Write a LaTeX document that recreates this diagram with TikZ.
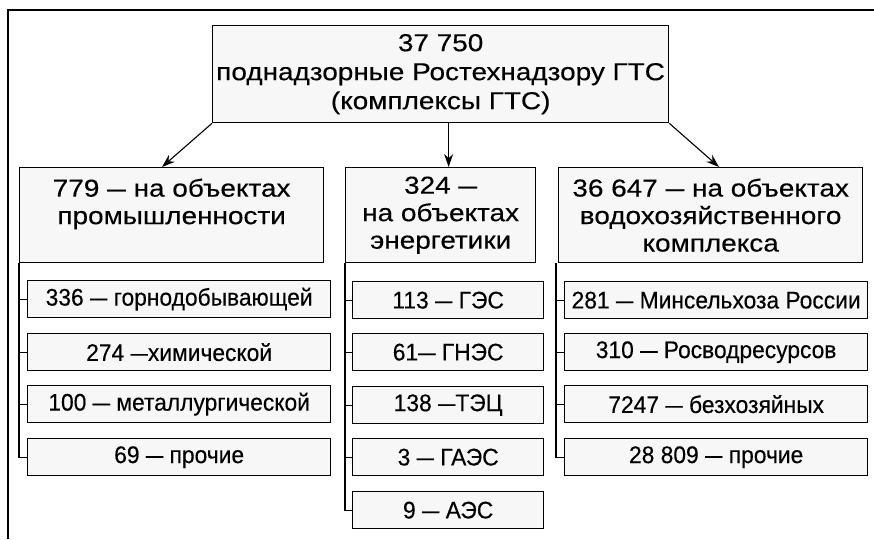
\documentclass[tikz,border=0pt]{standalone}
\usepackage{fontspec}
\setmainfont{Liberation Sans}
\newfontfamily\bigf{Liberation Sans}[FakeStretch=1.14,FakeBold=0.3]
\newfontfamily\subf{Liberation Sans}[FakeStretch=0.95,FakeBold=0.3]
\newcommand\gdash{\scalebox{0.67}[1]{—}}
\newcommand\sdash{\scalebox{0.76}[1]{—}}
\usetikzlibrary{arrows.meta}
\begin{document}
\begin{tikzpicture}[x=1pt,y=-1pt,
  box/.style={draw, line width=1.3pt, fill=black!3, inner sep=0pt, align=center,
    anchor=north west, font=\subf\fontsize{24}{27.5}\selectfont},
  grp/.style={box, minimum height=95pt, font=\bigf\fontsize{24.5}{27.5}\selectfont},
  sub/.style={box, minimum height=37pt},
  lsub/.style={sub, minimum width=303pt},
  msub/.style={sub, minimum width=191pt},
  conn/.style={line width=1.1pt},
  arr/.style={line width=1.1pt, -{Stealth[length=13pt,width=9pt]}},
  frame/.style={line width=2pt}]
\useasboundingbox (0,0) rectangle (874,539);
\draw[frame] (8,539) -- (8,10) -- (874,10);
% top
\node[box, minimum width=456pt, minimum height=97pt, font=\bigf\fontsize{24.5}{29}\selectfont] (top) at (212,25)
  {37 750\\поднадзорные Ростехнадзору ГТС\\(комплексы ГТС)};
% groups
\node[grp, minimum width=304pt] (g1) at (19,167)
  {779 \gdash{} на объектах\\промышленности\\~};
\node[grp, minimum width=190pt] (g2) at (345,167)
  {324 \gdash\\на объектах\\энергетики};
\node[grp, minimum width=304pt] (g3) at (558,167)
  {36 647 \gdash{} на объектах\\водохозяйственного\\комплекса};
% left subs
\node[lsub] (a1) at (27,280) {336 \sdash{} горнодобывающей};
\node[lsub] (a2) at (27,333) {274 \sdash химической};
\node[lsub] (a3) at (27,385) {100 \sdash{} металлургической};
\node[lsub] (a4) at (27,438) {69 \sdash{} прочие};
% middle subs
\node[msub] (b1) at (352,281) {113 \sdash{} ГЭС};
\node[msub] (b2) at (352,333) {61\sdash{} ГНЭС};
\node[msub] (b3) at (352,386) {138 \sdash ТЭЦ};
\node[msub] (b4) at (352,438) {3 \sdash{} ГАЭС};
\node[msub] (b5) at (352,491) {9 \sdash{} АЭС};
% right subs
\node[lsub] (c1) at (564,281) {281 \sdash{} Минсельхоза России};
\node[lsub] (c2) at (564,333) {310 \sdash{} Росводресурсов};
\node[lsub] (c3) at (564,385) {7247 \sdash{} безхозяйных};
\node[lsub] (c4) at (564,438) {28 809 \sdash{} прочие};
% arrows
\draw[arr] (top.south west) -- ([xshift=143pt]g1.north west);
\draw[arr] ([xshift=8pt]top.south) -- ([xshift=8pt]top.south |- g2.north);
\draw[arr] (top.south east) -- ([xshift=161pt]g3.north west);
% trunks
\draw[conn] (g1.south west) |- (a4.west);
\foreach \n in {a1,a2,a3} \draw[conn] (g1.south west |- \n.west) -- (\n.west);
\draw[conn] (g2.south west) |- (b5.west);
\foreach \n in {b1,b2,b3,b4} \draw[conn] (g2.south west |- \n.west) -- (\n.west);
\draw[conn] ([xshift=-2pt]g3.south west) |- (c4.west);
\foreach \n in {c1,c2,c3} \draw[conn] ([xshift=-2pt]g3.south west |- \n.west) -- (\n.west);
\end{tikzpicture}
\end{document}
